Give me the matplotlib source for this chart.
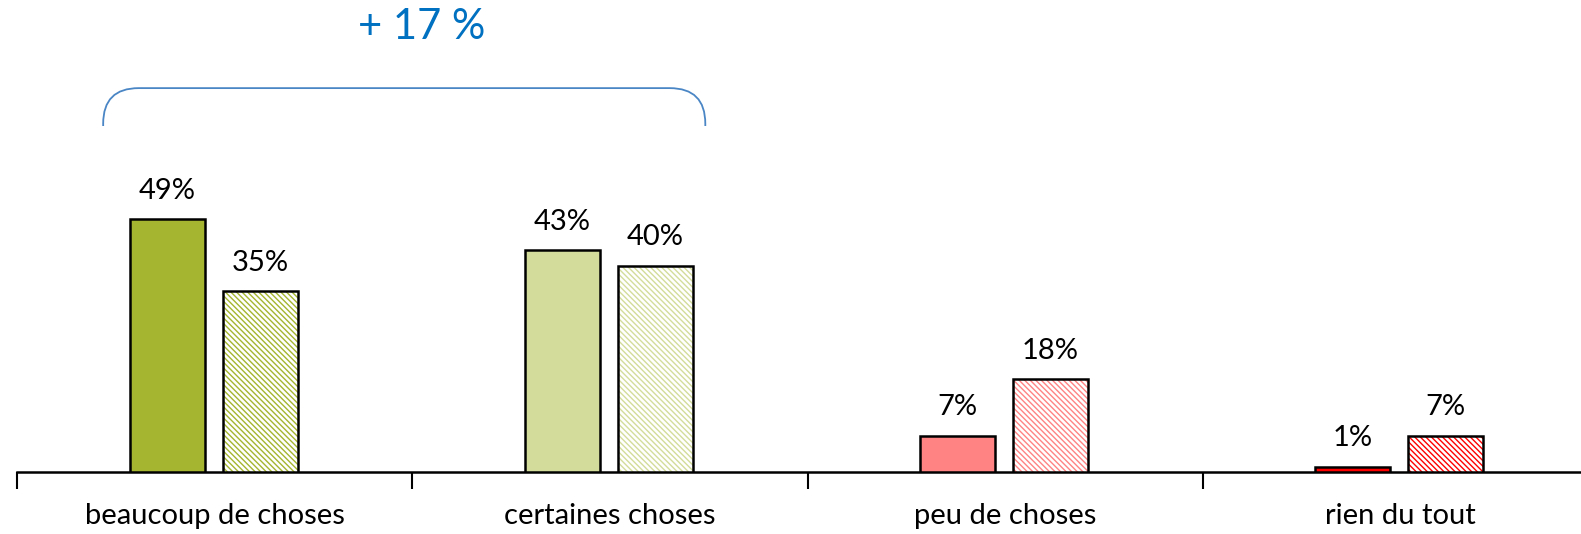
import matplotlib.pyplot as plt
from matplotlib.patches import FancyBboxPatch
import numpy as np

plt.rcParams['font.family'] = ['Lato', 'DejaVu Sans']
plt.rcParams['hatch.linewidth'] = 1.0

categories = ['beaucoup de choses', 'certaines choses', 'peu de choses', 'rien du tout']
serie_1 = [49, 43, 7, 1]
serie_2 = [35, 40, 18, 7]
couleurs = ['#a5b52f', '#d3dc9a', '#ff8383', '#ff0000']
ecart_label = '+ 17 %'

fig = plt.figure(figsize=(15.81, 5.34), dpi=100)
ax = fig.add_axes([17 / 1581, 62 / 534, 1.0, 472 / 534])

x = np.arange(len(categories))
w = 0.19
off1 = -0.120
off2 = 0.115

# barres pleines
ax.bar(x + off1, serie_1, w, color=couleurs, edgecolor='black', linewidth=1.8, zorder=3)
# barres hachurees : hachure coloree puis contour noir
for i in range(len(categories)):
    ax.bar(x[i] + off2, serie_2[i], w, color='white', edgecolor=couleurs[i],
           hatch='\\' * 6, linewidth=0, zorder=3)
ax.bar(x + off2, serie_2, w, fill=False, edgecolor='black', linewidth=1.8, zorder=4)

for i in range(len(categories)):
    ax.text(x[i] + off1, serie_1[i] + 3.0, f'{serie_1[i]}%', ha='center', va='bottom', fontsize=21)
    ax.text(x[i] + off2, serie_2[i] + 3.0, f'{serie_2[i]}%', ha='center', va='bottom', fontsize=21)

ax.set_xlim(-0.5, 3.464)
ax.set_ylim(0, 91.5)

for s in ['top', 'right', 'left']:
    ax.spines[s].set_visible(False)
ax.spines['bottom'].set_linewidth(1.8)
ax.set_yticks([])
ax.set_xticks(x)
ax.set_xticklabels(categories, fontsize=21)
ax.tick_params(axis='x', which='major', length=0, pad=22)
ax.set_xticks(np.arange(-0.5, 4, 1), minor=True)
ax.tick_params(axis='x', which='minor', length=12, width=1.5, direction='out')

# accolade au dessus des deux premieres categories
x0 = (103 - 17) / 394.5 - 0.5
x1 = (704 - 17) / 394.5 - 0.5
y_top = (472 - 88) / 5.16
y_bas = (472 - 126) / 5.16
bracket = FancyBboxPatch((x0, y_bas - 20), x1 - x0, y_top - y_bas + 20,
                         boxstyle='round,pad=0,rounding_size=0.09',
                         mutation_aspect=394.5 / 5.16,
                         fill=False, edgecolor='#4a86c5', linewidth=1.3, clip_on=False)
ax.add_patch(bracket)
ax.add_patch(plt.Rectangle((x0 - 0.01, y_bas - 21), x1 - x0 + 0.02, 21,
                           facecolor='white', edgecolor='none', zorder=2.5, clip_on=False))
ax.text((421 - 17) / 394.5 - 0.5, (472 - 27) / 5.16, ecart_label, ha='center', va='center',
        fontsize=30, color='#0070c0')

fig.savefig('out.png', dpi=100)
